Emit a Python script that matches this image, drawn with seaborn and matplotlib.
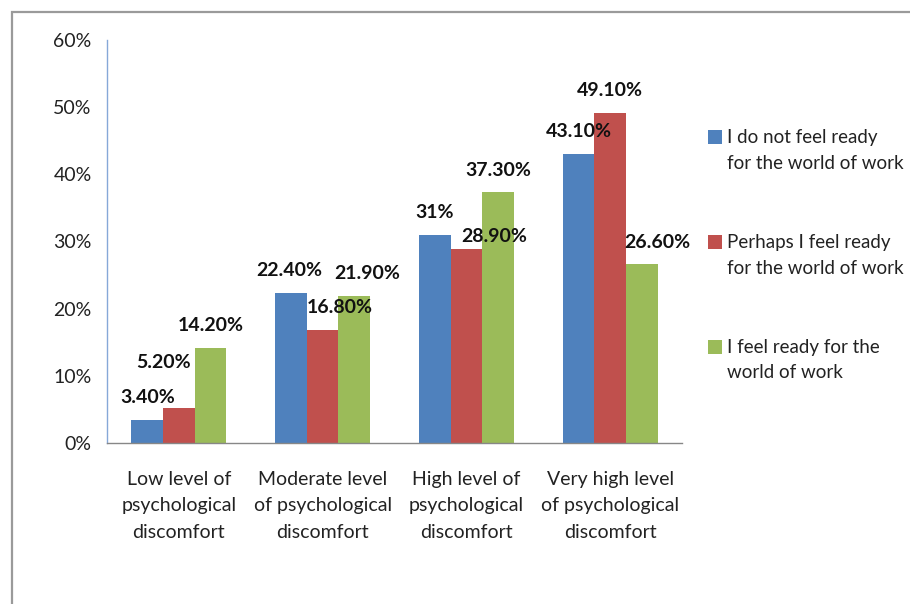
import matplotlib
matplotlib.use("Agg")
import matplotlib.pyplot as plt
from matplotlib.patches import Rectangle
from matplotlib.legend_handler import HandlerPatch
from matplotlib.ticker import FixedLocator, PercentFormatter
import seaborn as sns
import pandas as pd

categories = ["Low level of\npsychological\ndiscomfort",
              "Moderate level\nof psychological\ndiscomfort",
              "High level of\npsychological\ndiscomfort",
              "Very high level\nof psychological\ndiscomfort"]
series = ["I do not feel ready\nfor the world of work",
          "Perhaps I feel ready\nfor the world of work",
          "I feel ready for the\nworld of work"]
not_ready = [3.4, 22.4, 31.0, 43.1]
perhaps_ready = [5.2, 16.8, 28.9, 49.1]
ready = [14.2, 21.9, 37.3, 26.6]
label_texts = [["3.40%", "22.40%", "31%", "43.10%"],
               ["5.20%", "16.80%", "28.90%", "49.10%"],
               ["14.20%", "21.90%", "37.30%", "26.60%"]]
yticks = [0, 10, 20, 30, 40, 50, 60]

colors = ["#4F81BD", "#C0504D", "#9BBB59"]
# label nudges (points) mimicking the original placement
label_dx = [[0, -1, 0, 0], [-11, 12, 20, 0], [0, 9, 0, 11]]
label_dy = [[0, 0, 0, 0], [17, 0, -7, 0], [0, 0, 0, 0]]

values = [not_ready, perhaps_ready, ready]
rows = []
for s, vals in zip(series, values):
    for c, v in zip(categories, vals):
        rows.append({"category": c, "series": s, "value": v})
df = pd.DataFrame(rows)

sns.set_style("white")
plt.rcParams["font.family"] = ["Lato", "DejaVu Sans"]

fig = plt.figure(figsize=(9.10, 6.04), dpi=100)
ax = fig.add_axes([107 / 910, 1 - 443 / 604, (682 - 107) / 910, (443 - 40) / 604])

sns.barplot(data=df, x="category", y="value", hue="series", order=categories,
            hue_order=series, palette=colors, saturation=1, width=0.66,
            linewidth=0, ax=ax, legend=False)

ax.set_ylim(0, 60)
ax.set_xlim(-0.5, 3.5)
ax.set_yticks(yticks)
ax.yaxis.set_major_formatter(PercentFormatter(decimals=0))
ax.set_xlabel("")
ax.set_ylabel("")
for sp in ["top", "right"]:
    ax.spines[sp].set_visible(False)
ax.spines["left"].set_color("#86A8D8")
ax.spines["left"].set_linewidth(1.0)
ax.spines["bottom"].set_color("#878787")
ax.spines["bottom"].set_linewidth(1.0)
ax.tick_params(axis="y", which="major", direction="out", length=5, width=1,
               color="#86A8D8", labelsize=14, labelcolor="#222222", pad=6)
ax.tick_params(axis="x", which="major", length=0, labelsize=14,
               labelcolor="#222222", pad=20)
ax.xaxis.set_minor_locator(FixedLocator([-0.5, 0.5, 1.5, 2.5, 3.5]))
ax.tick_params(axis="x", which="minor", direction="out", length=6, width=1,
               color="#878787")
for lbl in ax.get_xticklabels():
    lbl.set_linespacing(1.68)

for si, cont in enumerate(ax.containers):
    for ci, bar in enumerate(cont):
        x = bar.get_x() + bar.get_width() / 2
        y = bar.get_height()
        ax.annotate(label_texts[si][ci], (x, y),
                    xytext=(label_dx[si][ci], 16 + label_dy[si][ci]),
                    textcoords="offset points", ha="center", va="center",
                    fontsize=14, fontweight="bold", color="#111111")


def make_sq(legend, orig_handle, xdescent, ydescent, width, height, fontsize):
    return Rectangle((-xdescent, -ydescent + 10.0), width, height)


handles = [Rectangle((0, 0), 1, 1, facecolor=c, edgecolor="none") for c in colors]
leg = fig.legend(handles, series, loc="upper left",
                 bbox_to_anchor=(700 / 910, 1 - 122 / 604),
                 frameon=False, fontsize=13.5, handlelength=0.78, handleheight=0.78,
                 handletextpad=0.25, labelspacing=3.35, borderaxespad=0,
                 handler_map={Rectangle: HandlerPatch(patch_func=make_sq)})
for t in leg.get_texts():
    t.set_linespacing(1.58)
    t.set_color("#222222")

fig.add_artist(Rectangle((12 / 910, -0.05), 1.2, 1 - 12 / 604 + 0.05,
                         transform=fig.transFigure, fill=False,
                         edgecolor="#9A9A9A", linewidth=1.6))

fig.savefig("out.png", dpi=100)
